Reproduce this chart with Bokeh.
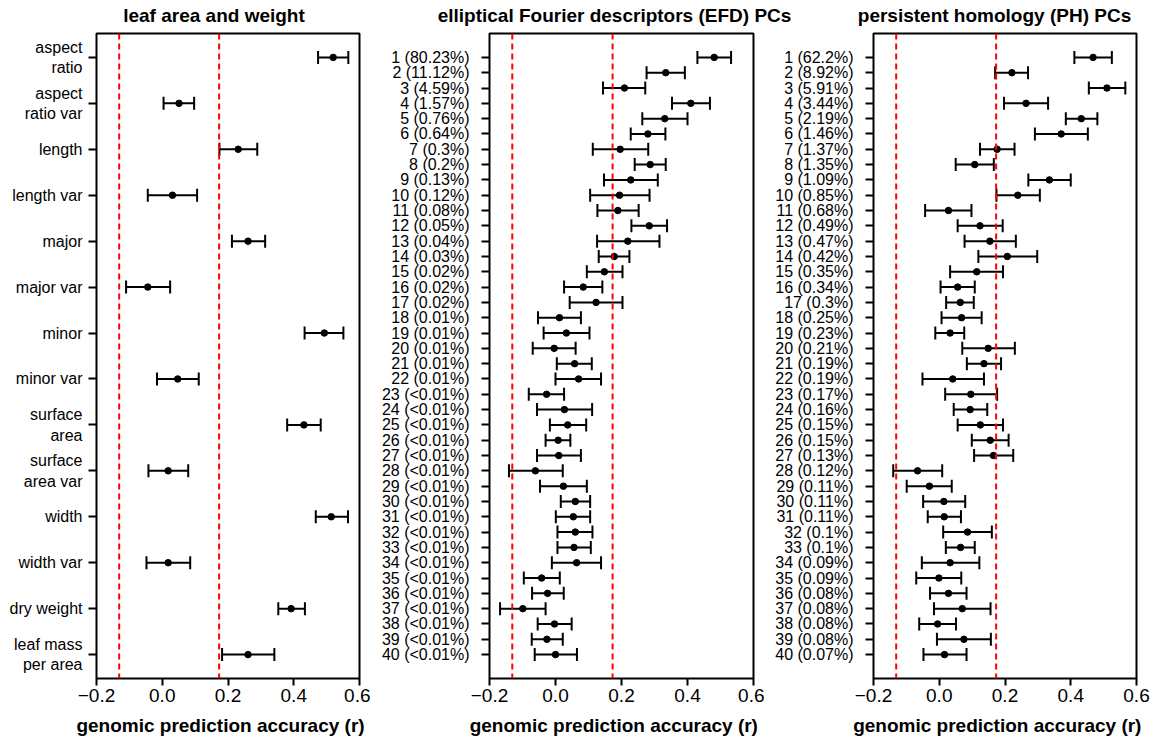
from bokeh.plotting import figure
from bokeh.models import (ColumnDataSource, Whisker, TeeHead, Span, Range1d,
                          FixedTicker)
from bokeh.core.properties import value
from bokeh.layouts import row, column
from bokeh.embed import file_html
from bokeh.resources import INLINE

# ---------------- data ----------------
leaf_labels = ["aspect\nratio", "aspect\nratio var", "length", "length var",
               "major", "major var", "minor", "minor var", "surface\narea",
               "surface\narea var", "width", "width var", "dry weight",
               "leaf mass\nper area"]
leaf_r = [0.520, 0.051, 0.231, 0.031, 0.261, -0.044, 0.493, 0.047, 0.431,
          0.018, 0.514, 0.018, 0.392, 0.261]
leaf_lo = [0.474, 0.004, 0.174, -0.044, 0.212, -0.110, 0.433, -0.016, 0.380,
           -0.042, 0.467, -0.048, 0.353, 0.182]
leaf_hi = [0.566, 0.097, 0.289, 0.106, 0.313, 0.024, 0.551, 0.111, 0.482,
           0.079, 0.565, 0.085, 0.434, 0.341]

efd_labels = ["1 (80.23%)", "2 (11.12%)", "3 (4.59%)", "4 (1.57%)", "5 (0.76%)",
              "6 (0.64%)", "7 (0.3%)", "8 (0.2%)", "9 (0.13%)", "10 (0.12%)",
              "11 (0.08%)", "12 (0.05%)", "13 (0.04%)", "14 (0.03%)", "15 (0.02%)",
              "16 (0.02%)", "17 (0.02%)", "18 (0.01%)", "19 (0.01%)", "20 (0.01%)",
              "21 (0.01%)", "22 (0.01%)", "23 (<0.01%)", "24 (<0.01%)", "25 (<0.01%)",
              "26 (<0.01%)", "27 (<0.01%)", "28 (<0.01%)", "29 (<0.01%)", "30 (<0.01%)",
              "31 (<0.01%)", "32 (<0.01%)", "33 (<0.01%)", "34 (<0.01%)", "35 (<0.01%)",
              "36 (<0.01%)", "37 (<0.01%)", "38 (<0.01%)", "39 (<0.01%)", "40 (<0.01%)"]
efd_r = [0.481, 0.334, 0.209, 0.410, 0.331, 0.280, 0.196, 0.287, 0.228, 0.194,
         0.189, 0.284, 0.219, 0.178, 0.148, 0.084, 0.123, 0.012, 0.033, -0.004,
         0.058, 0.070, -0.027, 0.027, 0.037, 0.008, 0.010, -0.061, 0.024, 0.060,
         0.054, 0.060, 0.056, 0.064, -0.042, -0.024, -0.099, -0.003, -0.026, 0.000]
efd_lo = [0.430, 0.276, 0.144, 0.353, 0.263, 0.228, 0.113, 0.240, 0.147, 0.105,
          0.127, 0.230, 0.126, 0.131, 0.095, 0.026, 0.043, -0.053, -0.036, -0.069,
          0.004, 0.000, -0.081, -0.056, -0.017, -0.030, -0.056, -0.141, -0.047, 0.016,
          0.001, 0.006, 0.006, -0.011, -0.096, -0.071, -0.168, -0.054, -0.072, -0.063]
efd_hi = [0.532, 0.392, 0.272, 0.468, 0.400, 0.333, 0.281, 0.334, 0.310, 0.285,
          0.252, 0.338, 0.315, 0.224, 0.203, 0.142, 0.203, 0.077, 0.103, 0.061,
          0.110, 0.138, 0.026, 0.111, 0.093, 0.045, 0.077, 0.022, 0.095, 0.105,
          0.105, 0.112, 0.107, 0.138, 0.013, 0.025, -0.030, 0.049, 0.022, 0.065]

ph_labels = ["1 (62.2%)", "2 (8.92%)", "3 (5.91%)", "4 (3.44%)", "5 (2.19%)",
             "6 (1.46%)", "7 (1.37%)", "8 (1.35%)", "9 (1.09%)", "10 (0.85%)",
             "11 (0.68%)", "12 (0.49%)", "13 (0.47%)", "14 (0.42%)", "15 (0.35%)",
             "16 (0.34%)", "17 (0.3%)", "18 (0.25%)", "19 (0.23%)", "20 (0.21%)",
             "21 (0.19%)", "22 (0.19%)", "23 (0.17%)", "24 (0.16%)", "25 (0.15%)",
             "26 (0.15%)", "27 (0.13%)", "28 (0.12%)", "29 (0.11%)", "30 (0.11%)",
             "31 (0.11%)", "32 (0.1%)", "33 (0.1%)", "34 (0.09%)", "35 (0.09%)",
             "36 (0.08%)", "37 (0.08%)", "38 (0.08%)", "39 (0.08%)", "40 (0.07%)"]
ph_r = [0.468, 0.221, 0.510, 0.264, 0.432, 0.371, 0.176, 0.108, 0.335, 0.239,
        0.028, 0.124, 0.154, 0.207, 0.114, 0.056, 0.064, 0.068, 0.033, 0.149,
        0.136, 0.041, 0.096, 0.094, 0.125, 0.155, 0.165, -0.066, -0.030, 0.014,
        0.015, 0.086, 0.065, 0.033, -0.001, 0.028, 0.070, -0.005, 0.075, 0.016]
ph_lo = [0.411, 0.170, 0.455, 0.197, 0.385, 0.291, 0.124, 0.050, 0.271, 0.174,
         -0.043, 0.056, 0.077, 0.119, 0.033, 0.004, 0.021, 0.007, -0.012, 0.070,
         0.084, -0.051, 0.018, 0.044, 0.056, 0.099, 0.106, -0.140, -0.099, -0.049,
         -0.035, 0.012, 0.020, -0.053, -0.070, -0.028, -0.016, -0.061, -0.007, -0.048]
ph_hi = [0.525, 0.270, 0.566, 0.331, 0.481, 0.452, 0.229, 0.166, 0.400, 0.306,
         0.098, 0.193, 0.233, 0.298, 0.194, 0.108, 0.105, 0.129, 0.076, 0.230,
         0.188, 0.136, 0.176, 0.146, 0.194, 0.211, 0.225, 0.009, 0.038, 0.079,
         0.066, 0.160, 0.108, 0.122, 0.067, 0.083, 0.156, 0.051, 0.157, 0.083]

thresholds = [-0.131, 0.173]
x_ticks = [-0.2, 0.0, 0.2, 0.4, 0.6]
x_tick_labels = ["\u22120.2", "0.0", "0.2", "0.4", "0.6"]

titles = ["leaf area and weight", "elliptical Fourier descriptors (EFD) PCs",
          "persistent homology (PH) PCs"]
xlabel = "genomic prediction accuracy (r)"

# ---------------- layout constants (pixels) ----------------
W = 1156
HEADER_H = 31
FRAME_H = 645
PANEL_BOTTOM = 32
PANEL_H = 2 + FRAME_H + PANEL_BOTTOM
FOOTER_H = 740 - HEADER_H - PANEL_H
title_centers = [213.5, 614.0, 994.0]
xlabel_centers = [220.0, 613.3, 996.8]
FONT = "Liberation Sans"


def text_strip(texts, centers, height, y_pos):
    s = figure(width=W, height=height, output_backend="svg", toolbar_location=None,
               x_range=Range1d(0, W), y_range=Range1d(0, height),
               x_axis_type=None, y_axis_type=None, min_border=0,
               outline_line_color=None, background_fill_color="white",
               border_fill_color="white")
    s.grid.visible = False
    src = ColumnDataSource(dict(x=centers, y=[y_pos] * len(texts), t=texts))
    s.text(x="x", y="y", text="t", source=src, text_align="center",
           text_baseline="alphabetic", text_font=value(FONT),
           text_font_size=value("19px"), text_font_style="bold", text_color="black")
    return s


def panel(labels, r, lo, hi, width, left, right, label_standoff):
    n = len(labels)
    ys = list(range(1, n + 1))
    pad = (n - 1) * 0.04
    p = figure(width=width, height=PANEL_H, output_backend="svg", toolbar_location=None,
               x_range=Range1d(-0.2, 0.6), y_range=Range1d(n + pad, 1 - pad),
               min_border_left=left, min_border_right=right,
               min_border_top=2, min_border_bottom=PANEL_BOTTOM,
               background_fill_color="white", border_fill_color="white")
    p.grid.visible = False
    p.outline_line_color = "black"
    p.outline_line_width = 2
    p.outline_line_alpha = 1

    p.xaxis.ticker = FixedTicker(ticks=x_ticks)
    p.xaxis.major_label_overrides = {t: s for t, s in zip(x_ticks, x_tick_labels)}
    p.yaxis.ticker = FixedTicker(ticks=ys)
    p.yaxis.major_label_overrides = {y: s for y, s in zip(ys, labels)}
    for ax in (p.xaxis[0], p.yaxis[0]):
        ax.axis_line_color = None
        ax.major_tick_line_color = "black"
        ax.major_tick_line_width = 2
        ax.major_tick_in = 0
        ax.minor_tick_line_color = None
        ax.major_label_text_font = FONT
        ax.major_label_text_color = "black"
    p.xaxis.major_tick_out = 7
    p.xaxis.major_label_standoff = 3
    p.xaxis.major_label_text_font_size = "19px"
    p.yaxis.major_tick_out = 8
    p.yaxis.major_label_standoff = label_standoff
    p.yaxis.major_label_text_font_size = "16px"

    for t in thresholds:
        p.add_layout(Span(location=t, dimension="height", line_color="#FF0000",
                          line_width=2, line_dash="6 4"))

    src = ColumnDataSource(dict(y=ys, r=r, lo=lo, hi=hi))
    p.add_layout(Whisker(source=src, base="y", lower="lo", upper="hi",
                         dimension="width", line_color="black", line_width=2,
                         upper_head=TeeHead(size=13, line_color="black", line_width=2),
                         lower_head=TeeHead(size=13, line_color="black", line_width=2)))
    p.scatter(x="r", y="y", source=src, size=6.5, color="black")
    return p


header = text_strip(titles, title_centers, HEADER_H, 16)
p1 = panel(leaf_labels, leaf_r, leaf_lo, leaf_hi, 370, 96, 11, 6)
p2 = panel(efd_labels, efd_r, efd_lo, efd_hi, 394, 119, 11, 12)
p3 = panel(ph_labels, ph_r, ph_lo, ph_hi, 392, 109, 20, 12)
footer = text_strip([xlabel] * 3, xlabel_centers, FOOTER_H, 15)

layout = column(header, row(p1, p2, p3), footer)
open("out.html", "w").write(file_html(layout, INLINE))
